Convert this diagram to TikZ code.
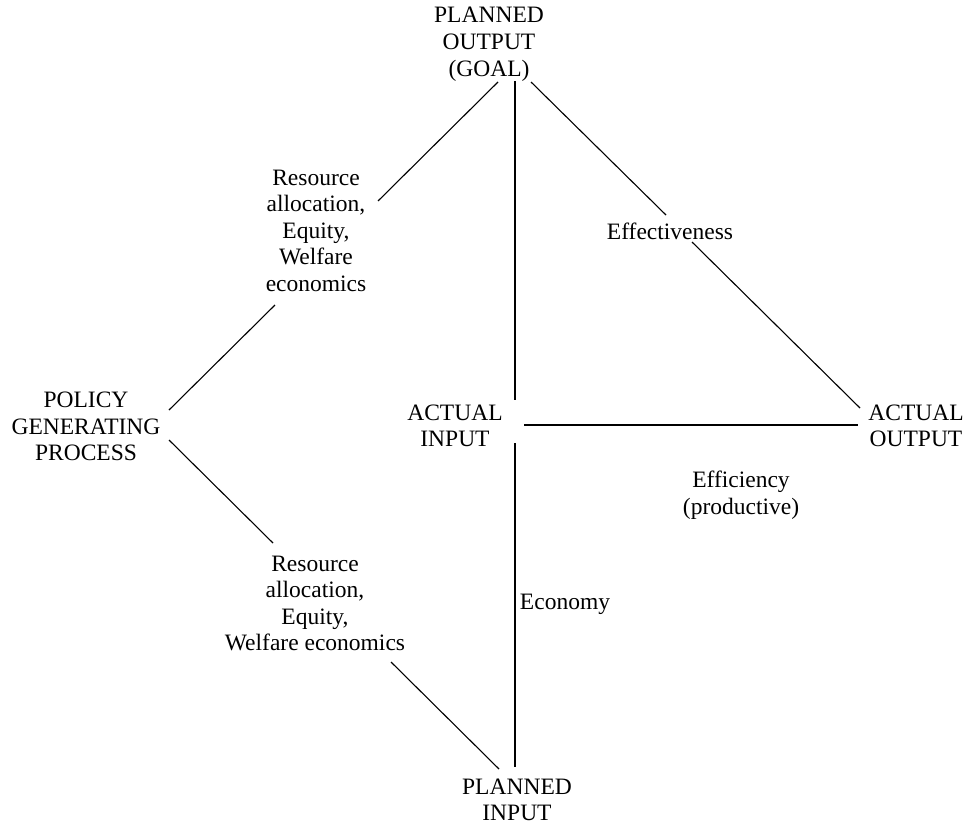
\documentclass[tikz,border=0pt]{standalone}
\usepackage{fontspec}
\setmainfont{Liberation Serif}
\newfontfamily\timesfont{Liberation Serif}
\begin{document}
\begin{tikzpicture}[x=1pt,y=-1pt,
  lbl/.style={align=center,inner sep=0pt,font=\timesfont\fontsize{23.5}{26.5}\selectfont},
  conn/.style={line width=1.1pt,black}]
\useasboundingbox (0,0) rectangle (971,827);
% nodes
\node[lbl,font=\timesfont\fontsize{23.5}{27}\selectfont] (goal) at (489,44.5) {PLANNED\\OUTPUT\\(GOAL)};
\node[lbl] (res1) at (316,230.5) {Resource\\allocation,\\Equity,\\Welfare\\economics};
\node[lbl] (eff) at (670,231) {Effectiveness};
\node[lbl] (policy) at (86,426.5) {POLICY\\GENERATING\\PROCESS};
\node[lbl] (ain) at (455,426) {ACTUAL\\INPUT};
\node[lbl] (aout) at (916,426) {ACTUAL\\OUTPUT};
\node[lbl] (effic) at (741,495) {Efficiency\\(productive)};
\node[lbl] (econ) at (565,604) {Economy};
\node[lbl] (res2) at (315,603.5) {Resource\\allocation,\\Equity,\\Welfare economics};
\node[lbl] (pin) at (517,800) {PLANNED\\INPUT};
% connector end points
\coordinate (goal-l) at (498,82);
\coordinate (goal-m) at (515,81);
\coordinate (goal-r) at (531,82);
\coordinate (res1-t) at (378,201);
\coordinate (res1-b) at (275,305);
\coordinate (eff-t) at (666,215);
\coordinate (eff-b) at (692,242);
\coordinate (policy-t) at (169,410);
\coordinate (policy-b) at (169,440);
\coordinate (res2-t) at (273,543);
\coordinate (res2-b) at (391,662);
\coordinate (ain-t) at (515,400);
\coordinate (ain-b) at (515,443);
\coordinate (ain-r) at (524,425);
\coordinate (aout-l) at (858,425);
\coordinate (aout-t) at (860,408);
\coordinate (pin-l) at (499,769);
\coordinate (pin-t) at (515,767);
% connectors
\draw[conn] (goal-l) -- (res1-t);
\draw[conn] (res1-b) -- (policy-t);
\draw[conn] (policy-b) -- (res2-t);
\draw[conn] (res2-b) -- (pin-l);
\draw[conn] (goal-m) -- (ain-t);
\draw[conn] (ain-b) -- (pin-t);
\draw[conn] (ain-r) -- (aout-l);
\draw[conn] (goal-r) -- (eff-t);
\draw[conn] (eff-b) -- (aout-t);
\end{tikzpicture}
\end{document}
